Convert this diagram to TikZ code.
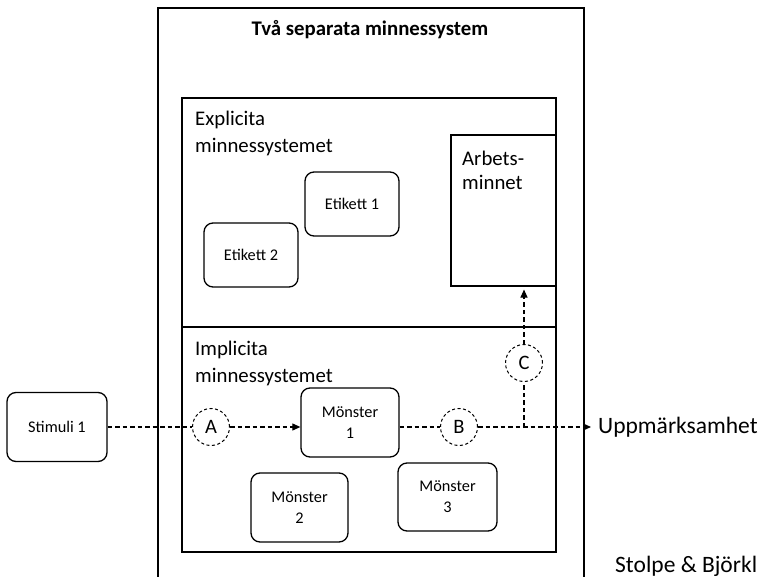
\documentclass[tikz,border=0pt]{standalone}
\usepackage{fontspec}
\setmainfont{Carlito}
\usetikzlibrary{arrows.meta}
\begin{document}
\begin{tikzpicture}[x=1pt,y=-1pt,
  frame/.style={draw, line width=1.3pt, inner sep=0pt},
  rbox/.style={draw, line width=1.3pt, rounded corners=9pt, align=center, inner sep=0pt,
     font=\fontsize{16.3}{21}\selectfont},
  circ/.style={draw, circle, dashed, dash pattern=on 3pt off 2.5pt, line width=1pt,
     minimum size=37pt, inner sep=0pt, font=\fontsize{20.5}{24}\selectfont},
  flow/.style={line width=1.1pt, dash pattern=on 4.5pt off 3pt},
  tip/.style={-{Triangle[length=8pt,width=7pt]}},
  lbl/.style={anchor=base west, inner sep=0pt, font=\fontsize{20.8}{24}\selectfont},
  big/.style={anchor=base west, inner sep=0pt, font=\fontsize{23.5}{27}\selectfont}]
\useasboundingbox (0,0) rectangle (760,577);
\clip (0,0) rectangle (760,577);
\fill[white] (0,0) rectangle (760,577);
% outer frame
\node[frame, line width=1.5pt, minimum width=426pt, minimum height=612pt] (outer) at (371,314) {};
\node[anchor=base, inner sep=0pt, font=\bfseries\fontsize{20.8}{24}\selectfont] (title) at (370,36) {Två separata minnessystem};
% explicit and implicit systems
\node[frame, minimum width=374pt, minimum height=229pt] (expl) at (369,212.5) {};
\node[frame, minimum width=374pt, minimum height=225pt] (impl) at (369,439.5) {};
\node[lbl] (explA) at (195,126) {Explicita};
\node[lbl] (explB) at (195,153) {minnessystemet};
\node[lbl] (implA) at (195,355) {Implicita};
\node[lbl] (implB) at (195,382) {minnessystemet};
% working memory
\node[frame, line width=1.1pt, minimum width=105pt, minimum height=151pt] (arb) at (503.5,210.5) {};
\node[lbl] (arbA) at (462,166) {Arbets-};
\node[lbl] (arbB) at (462,190) {minnet};
% labels
\node[rbox, minimum width=94pt, minimum height=64pt] (et1) at (352,204) {Etikett 1};
\node[rbox, minimum width=94pt, minimum height=64pt] (et2) at (251,255) {Etikett 2};
% patterns
\node[rbox, minimum width=100pt, minimum height=69pt] (stim) at (57,427) {Stimuli 1};
\node[rbox, minimum width=98pt, minimum height=69pt] (m1) at (350,422.5) {Mönster\\1};
\node[rbox, minimum width=97pt, minimum height=69pt] (m2) at (299.5,507.5) {Mönster\\2};
\node[rbox, minimum width=99pt, minimum height=68pt] (m3) at (447.5,497) {Mönster\\3};
% circles
\node[circ] (A) at (211,427) {A};
\node[circ] (B) at (459,427) {B};
\node[circ] (C) at (524,363) {C};
% output text
\node[big, anchor=west, inner sep=0pt] (upp) at (598,427) {Uppmärksamhet};
\node[big] (ref) at (615,572) {Stolpe \& Björkl};
\coordinate (J) at (524,427);
\coordinate (out) at (591,427);
% connectors
\draw[flow] (stim.east) -- (A.west);
\draw[flow, tip] (A.east) -- (m1.west |- A);
\draw[flow] (m1.east |- B) -- (B.west);
\draw[flow, tip] (B.east) -- (out);
\draw[flow] (J) -- (C.south);
\draw[flow, tip, shorten >=3pt] (C.north) -- (C |- arb.south);
\end{tikzpicture}
\end{document}
